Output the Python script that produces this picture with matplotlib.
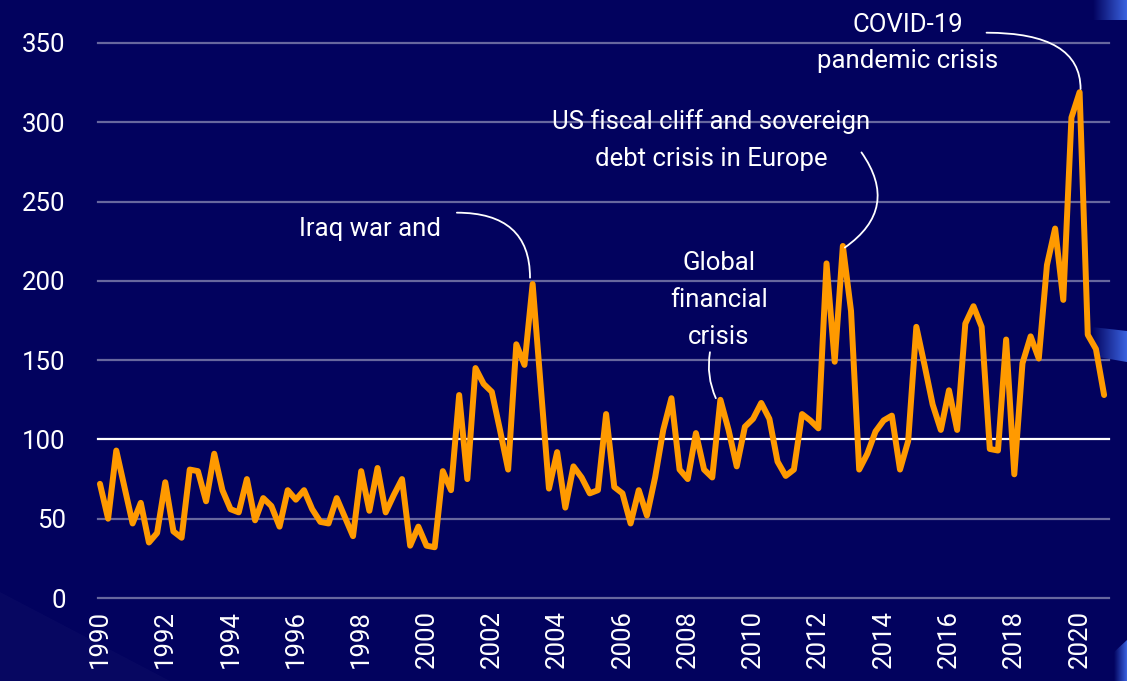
import matplotlib
matplotlib.use('Agg')
import matplotlib.pyplot as plt
import numpy as np
from matplotlib.patches import Polygon

plt.rcParams['font.family'] = ['Roboto', 'DejaVu Sans']

# quarterly index, 1990Q1 - 2020Q4
years = list(range(1990, 2021))
values = [
    72, 50, 93, 70,      # 1990
    47, 60, 35, 41,      # 1991
    73, 42, 38, 81,      # 1992
    80, 61, 91, 68,      # 1993
    56, 54, 75, 49,      # 1994
    63, 58, 45, 68,      # 1995
    62, 68, 56, 48,      # 1996
    47, 63, 51, 39,      # 1997
    80, 55, 82, 54,      # 1998
    65, 75, 33, 45,      # 1999
    33, 32, 80, 68,      # 2000
    128, 75, 145, 135,   # 2001
    130, 106, 81, 160,   # 2002
    147, 198, 133, 69,   # 2003
    92, 57, 83, 76,      # 2004
    66, 68, 116, 70,     # 2005
    66, 47, 68, 52,      # 2006
    76, 106, 126, 81,    # 2007
    75, 104, 81, 76,     # 2008
    125, 106, 83, 108,   # 2009
    113, 123, 113, 86,   # 2010
    77, 81, 116, 112,    # 2011
    107, 211, 149, 222,  # 2012
    181, 81, 91, 105,    # 2013
    112, 115, 81, 99,    # 2014
    171, 147, 122, 106,  # 2015
    131, 106, 173, 184,  # 2016
    171, 94, 93, 163,    # 2017
    78, 148, 165, 151,   # 2018
    210, 233, 188, 303,  # 2019
    319, 166, 157, 128,  # 2020
]
quarters = [y + q / 4 for y in years for q in range(4)]

yticks = [0, 50, 100, 150, 200, 250, 300, 350]
xticks = list(range(1990, 2021, 2))

bg = '#02025e'
orange = '#ff9a00'

fig = plt.figure(figsize=(11.27, 6.81), dpi=100, facecolor=bg)

# decorative gradient bands of the slide background
deco = fig.add_axes([0, 0, 1, 1], zorder=0)
deco.set_xlim(0, 1127)
deco.set_ylim(681, 0)
deco.axis('off')
grad = np.linspace(0, 1, 256).reshape(1, -1)
cmap = matplotlib.colors.LinearSegmentedColormap.from_list('g', [bg, '#3b63e0'])
shapes = [
    [(1093, 0), (1127, 0), (1127, 20), (1093, 20)],
    [(1092, 327), (1127, 331), (1127, 362), (1092, 356)],
    [(1114, 652), (1127, 640), (1127, 681), (1114, 681)],
]
for pts in shapes:
    xs = [p[0] for p in pts]
    ys = [p[1] for p in pts]
    im = deco.imshow(grad, cmap=cmap, aspect='auto',
                     extent=(min(xs), max(xs), max(ys), min(ys)))
    poly = Polygon(pts, closed=True, transform=deco.transData, fc='none', ec='none')
    deco.add_patch(poly)
    im.set_clip_path(poly)
band = Polygon([(0, 592), (170, 681), (0, 681)], closed=True,
               fc='white', alpha=0.025, ec='none')
deco.add_patch(band)

ax = fig.add_axes([97.5 / 1127, 1 - 598 / 681, (1109 - 97.5) / 1127, (598 - 43) / 681], zorder=1)
ax.set_facecolor('none')
ax.set_xlim(1989.925, 2020.9)
ax.set_ylim(0, 350)

for v in yticks:
    if v == 100:
        ax.axhline(v, color='white', lw=1.6, zorder=1, clip_on=False)
    else:
        ax.axhline(v, color='white', alpha=0.4, lw=1.6, zorder=1, clip_on=False)

ax.plot(quarters, values, color=orange, lw=4.3, solid_joinstyle='round',
        solid_capstyle='round', zorder=3, clip_on=False)

for s in ax.spines.values():
    s.set_visible(False)
ax.set_yticks(yticks)
ax.set_xticks(xticks)
ax.set_xticklabels([str(x) for x in xticks], rotation=90)
ax.tick_params(axis='both', length=0, colors='white', labelsize=18.5)
ax.tick_params(axis='y', pad=23)
ax.tick_params(axis='x', pad=9)

txt = dict(color='white', fontsize=18.5, linespacing=1.68)
line = dict(arrowstyle='-', color='white', lw=1.3, shrinkA=0, shrinkB=0)

ax.text(2000.44, 233, 'Iraq war and', ha='right', va='center', **txt)
ax.annotate('', xy=(2003.17, 202), xytext=(2000.93, 243),
            arrowprops=dict(connectionstyle='angle3,angleA=0,angleB=90', **line))

ax.text(2008.95, 188, 'Global\nfinancial\ncrisis', ha='center', va='center', **txt)
ax.annotate('', xy=(2008.86, 126), xytext=(2008.68, 155),
            arrowprops=dict(connectionstyle='arc3,rad=0.15', **line))

ax.text(2008.73, 289, 'US fiscal cliff and sovereign\ndebt crisis in Europe',
        ha='center', va='center', **txt)
ax.annotate('', xy=(2012.81, 221), xytext=(2013.32, 281),
            arrowprops=dict(connectionstyle='arc3,rad=-0.5', **line))

ax.text(2014.74, 350, 'COVID-19\npandemic crisis', ha='center', va='center', **txt)
ax.annotate('', xy=(2020.03, 321), xytext=(2017.15, 356.5),
            arrowprops=dict(connectionstyle='angle3,angleA=0,angleB=90', **line))

fig.savefig('out.png', dpi=100, facecolor=bg)
